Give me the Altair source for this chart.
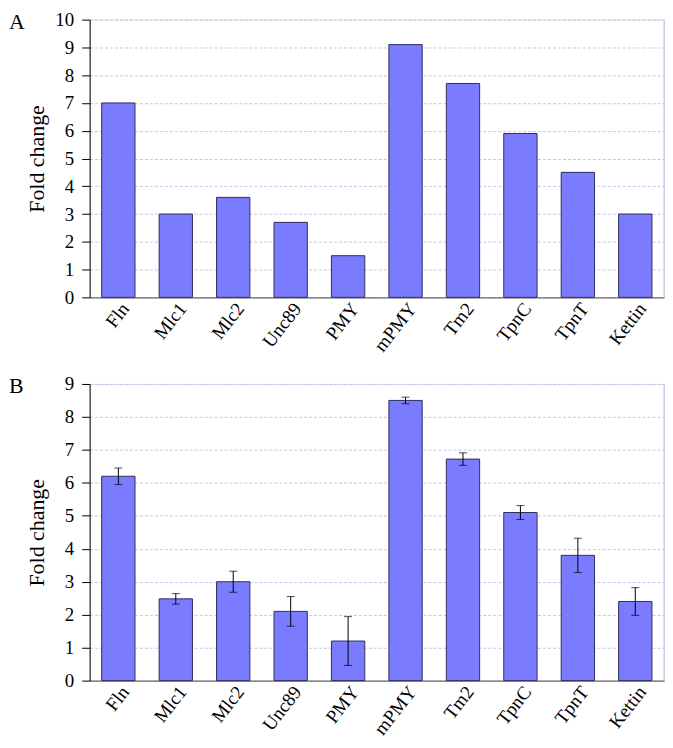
import altair as alt
import pandas as pd

genes = ["Fln", "Mlc1", "Mlc2", "Unc89", "PMY", "mPMY", "Tm2", "TpnC", "TpnT", "Kettin"]
fold_a = [7.0, 3.0, 3.6, 2.7, 1.5, 9.1, 7.7, 5.9, 4.5, 3.0]
fold_b = [6.2, 2.48, 3.0, 2.1, 1.2, 8.5, 6.72, 5.1, 3.8, 2.4]
err_b = [0.25, 0.16, 0.32, 0.45, 0.74, 0.1, 0.19, 0.21, 0.52, 0.42]

FONT = "Liberation Serif"
BAR_FILL = "#7b7bff"
BAR_STROKE = "#2e2e5c"
GRID = "#c4c4ee"
W = 577
HA = 279
HB = 298

df_a = pd.DataFrame({"gene": genes, "fold": fold_a})
df_b = pd.DataFrame({"gene": genes, "fold": fold_b, "err": err_b})
df_b["lo"] = df_b["fold"] - df_b["err"]
df_b["hi"] = df_b["fold"] + df_b["err"]

xscale = alt.Scale(paddingInner=0.42, paddingOuter=0.21)
xaxis = alt.Axis(
    title=None, labelAngle=-52, labelAlign="right", labelBaseline="top",
    labelFont=FONT, labelFontSize=19, labelColor="black", ticks=False,
    domainColor="#6e6e6e", domainWidth=1.2, labelPadding=2,
)


def yaxis(vals):
    return alt.Axis(
        title="Fold change", titleFont=FONT, titleFontSize=22, titleFontWeight="normal",
        titleColor="black", titleX=-46, titleBaseline="alphabetic",
        labelFont=FONT, labelFontSize=19, labelColor="black", labelPadding=8,
        values=vals, labelOverlap=False, tickSize=8, tickColor="black", domainColor="black",
        grid=True, gridColor=GRID, gridDash=[3, 2], gridWidth=1,
    )


def panel(df, letter, ymax, h, with_err):
    base = alt.Chart(df)
    yscale = alt.Scale(domain=[0, ymax], nice=False)
    ya = yaxis(list(range(0, ymax + 1)))
    xe = alt.X("gene:N", sort=genes, scale=xscale, axis=xaxis)
    bars = base.mark_bar(fill=BAR_FILL, stroke=BAR_STROKE, strokeWidth=1).encode(
        x=xe, y=alt.Y("fold:Q", scale=yscale, axis=ya),
    )
    layers = [bars]
    if with_err:
        rule = base.mark_rule(color="black", strokeWidth=1).encode(
            x=xe, y=alt.Y("lo:Q", scale=yscale, axis=ya), y2="hi:Q")
        cap_lo = base.mark_tick(color="black", size=8, thickness=1).encode(
            x=xe, y=alt.Y("lo:Q", scale=yscale, axis=ya))
        cap_hi = base.mark_tick(color="black", size=8, thickness=1).encode(
            x=xe, y=alt.Y("hi:Q", scale=yscale, axis=ya))
        layers += [rule, cap_lo, cap_hi]
    border = alt.Chart(pd.DataFrame({"k": [0]})).mark_rule(color=GRID, strokeWidth=1).encode(
        x=alt.value(W), y=alt.value(0), y2=alt.value(h))
    label = alt.Chart(pd.DataFrame({"t": [letter]})).mark_text(
        align="left", baseline="top", font=FONT, fontSize=22, color="black").encode(
        x=alt.value(-81), y=alt.value(-8), text="t:N")
    layers += [border, label]
    return alt.layer(*layers).properties(width=W, height=h)


chart_a = panel(df_a, "A", 10, HA, False)
chart_b = panel(df_b, "B", 9, HB, True)

chart = alt.vconcat(chart_a, chart_b, spacing=18).properties(padding=0).configure_view(
    stroke=None).configure(background="white")

chart.save("out.html", embed_options={"renderer": "svg", "actions": False})
